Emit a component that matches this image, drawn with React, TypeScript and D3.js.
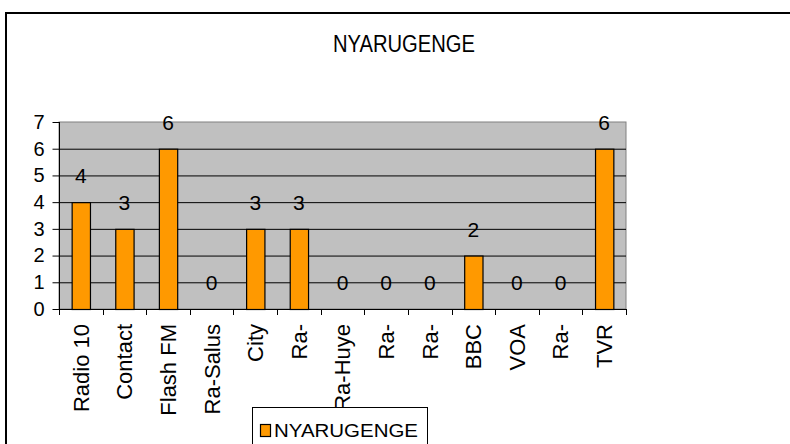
import React, { useEffect, useRef } from "react";
import * as d3 from "d3";

// chart values
const categories = ["Radio 10", "Contact", "Flash FM", "Ra-Salus", "City", "Ra-", "Ra-Huye", "Ra-", "Ra-", "BBC", "VOA", "Ra-", "TVR"];
const values = [4, 3, 6, 0, 3, 3, 0, 0, 0, 2, 0, 0, 6];
const yTicks = [0, 1, 2, 3, 4, 5, 6, 7];
const seriesName = "NYARUGENGE";
const title = "NYARUGENGE";

const width = 790;
const height = 444;
const font = "'Liberation Sans', Arial, sans-serif";

export default function App() {
  const ref = useRef<SVGSVGElement>(null);

  useEffect(() => {
    const svg = d3.select(ref.current);
    svg.selectAll("*").remove();

    const plot = { left: 59, right: 626, top: 122, bottom: 309 };

    const x = d3.scaleBand<number>()
      .domain(categories.map((_, i) => i))
      .range([plot.left, plot.right])
      .paddingInner(0.58)
      .paddingOuter(0.29);
    const band = d3.scaleBand<number>()
      .domain(categories.map((_, i) => i))
      .range([plot.left, plot.right]);
    const y = d3.scaleLinear().domain([0, 7]).range([plot.bottom, plot.top]);

    // outer frame
    svg.append("rect")
      .attr("x", 6).attr("y", 13)
      .attr("width", 800).attr("height", 450)
      .attr("fill", "#fff").attr("stroke", "#000").attr("stroke-width", 2);

    svg.append("text")
      .attr("x", 404).attr("y", 52)
      .attr("text-anchor", "middle")
      .attr("font-family", font).attr("font-size", 23)
      .attr("textLength", 142).attr("lengthAdjust", "spacingAndGlyphs")
      .text(title);

    // plot area
    svg.append("rect")
      .attr("x", plot.left).attr("y", plot.top)
      .attr("width", plot.right - plot.left).attr("height", plot.bottom - plot.top)
      .attr("fill", "#c0c0c0").attr("stroke", "#808080").attr("stroke-width", 1);

    svg.append("g").selectAll("line")
      .data(yTicks.filter(t => t > 0 && t < 7)).enter()
      .append("line")
      .attr("x1", plot.left).attr("x2", plot.right)
      .attr("y1", d => y(d) + 0.5).attr("y2", d => y(d) + 0.5)
      .attr("stroke", "#000").attr("stroke-width", 1);

    // bars
    svg.append("g").selectAll("rect")
      .data(values).enter()
      .append("rect")
      .attr("x", (_, i) => x(i)! + 0.5)
      .attr("y", d => y(d) + 0.5)
      .attr("width", x.bandwidth())
      .attr("height", d => y(0) - y(d))
      .attr("fill", "#ff9900").attr("stroke", "#000").attr("stroke-width", 1.2)
      .style("display", d => (d > 0 ? null : "none"));

    // data labels
    svg.append("g").selectAll("text")
      .data(values).enter()
      .append("text")
      .attr("x", (_, i) => band(i)! + band.bandwidth() / 2)
      .attr("y", d => y(d) - 19)
      .attr("text-anchor", "middle")
      .attr("font-family", font).attr("font-size", 21)
      .text(d => d);

    // y axis
    const yAxis = d3.axisLeft(y).tickValues(yTicks).tickSize(7).tickPadding(8).tickFormat(d3.format("d"));
    const ga = svg.append("g").attr("transform", `translate(${plot.left + 0.5},0)`).call(yAxis);
    ga.select(".domain").attr("d", `M0,${plot.top}V${plot.bottom}`).attr("stroke", "#000");
    ga.selectAll("text").attr("font-family", font).attr("font-size", 20).attr("fill", "#000");

    // x axis
    const bounds = d3.range(categories.length + 1).map(i => plot.left + i * band.bandwidth());
    svg.append("line")
      .attr("x1", plot.left).attr("x2", plot.right)
      .attr("y1", plot.bottom + 0.5).attr("y2", plot.bottom + 0.5)
      .attr("stroke", "#000");
    svg.append("g").selectAll("line")
      .data(bounds).enter()
      .append("line")
      .attr("x1", d => Math.round(d) + 0.5).attr("x2", d => Math.round(d) + 0.5)
      .attr("y1", plot.bottom).attr("y2", plot.bottom + 6)
      .attr("stroke", "#000");

    svg.append("g").selectAll("text")
      .data(categories).enter()
      .append("text")
      .attr("transform", (_, i) => `translate(${band(i)! + band.bandwidth() / 2},324) rotate(-90)`)
      .attr("dy", "0.36em")
      .attr("text-anchor", "end")
      .attr("font-family", font).attr("font-size", 22)
      .text(d => d);

    // legend
    const lg = svg.append("g");
    lg.append("rect")
      .attr("x", 252.5).attr("y", 407.5).attr("width", 175).attr("height", 50)
      .attr("fill", "#fff").attr("stroke", "#000").attr("stroke-width", 1);
    lg.append("rect")
      .attr("x", 260.5).attr("y", 424.5).attr("width", 10).attr("height", 12)
      .attr("fill", "#ff9900").attr("stroke", "#000").attr("stroke-width", 1.2);
    lg.append("text")
      .attr("x", 274).attr("y", 437)
      .attr("font-family", font).attr("font-size", 19)
      .attr("textLength", 144).attr("lengthAdjust", "spacingAndGlyphs")
      .text(seriesName);
  }, []);

  return (
    <svg ref={ref} width={width} height={height}
      style={{ position: "absolute", left: 0, top: 0, background: "#fff" }} />
  );
}
